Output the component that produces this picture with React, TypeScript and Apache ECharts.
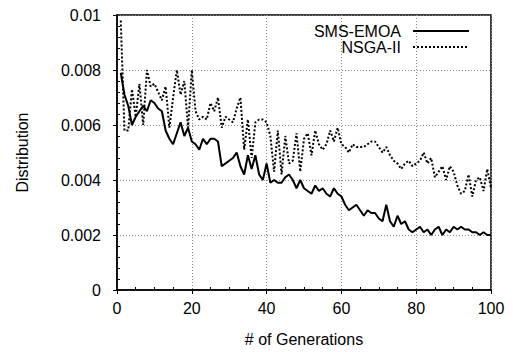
import React, { useEffect, useRef } from "react";
import * as echarts from "echarts";

const generations: number[] = Array.from({ length: 100 }, (_, i) => i + 1);

const smsEmoa: number[] = [
  0.0079, 0.0071, 0.0067, 0.006, 0.0063, 0.0065, 0.0067, 0.0065, 0.0069, 0.0068,
  0.0066, 0.0065, 0.0058, 0.0055, 0.0053, 0.0057, 0.0061, 0.0056, 0.0059, 0.0054,
  0.0053, 0.0051, 0.0055, 0.0053, 0.0055, 0.0055, 0.0054, 0.0045, 0.0046, 0.0047,
  0.0048, 0.005, 0.0045, 0.0042, 0.0049, 0.0044, 0.0049, 0.0042, 0.004, 0.0046,
  0.0039, 0.004, 0.0039, 0.0039, 0.0041, 0.0042, 0.004, 0.0037, 0.004, 0.0037,
  0.0036, 0.0035, 0.0038, 0.0036, 0.0037, 0.0035, 0.0034, 0.0037, 0.0035, 0.0034,
  0.0031, 0.0029, 0.003, 0.0031, 0.0029, 0.0027, 0.0029, 0.0028, 0.0028, 0.0026,
  0.0025, 0.0031, 0.0025, 0.0023, 0.0027, 0.0024, 0.0025, 0.0022, 0.0021, 0.0022,
  0.0023, 0.0021, 0.0022, 0.002, 0.0022, 0.0023, 0.002, 0.0022, 0.0021, 0.0023,
  0.0022, 0.0023, 0.0022, 0.0022, 0.0021, 0.0021, 0.002, 0.0021, 0.002, 0.002,
];

const nsga2: number[] = [
  0.0098, 0.0058, 0.0058, 0.0073, 0.0063, 0.0075, 0.006, 0.008, 0.0074, 0.0075,
  0.0072, 0.0069, 0.0074, 0.0059, 0.007, 0.008, 0.0071, 0.0076, 0.0059, 0.008,
  0.0065, 0.0062, 0.0063, 0.0062, 0.0068, 0.0065, 0.007, 0.0059, 0.0063, 0.0062,
  0.0061, 0.0066, 0.007, 0.0051, 0.0062, 0.0048, 0.0061, 0.0062, 0.0062, 0.0061,
  0.0056, 0.0043, 0.0058, 0.0042, 0.0056, 0.0046, 0.0047, 0.0057, 0.0043, 0.0055,
  0.0057, 0.0049, 0.0058, 0.0053, 0.0051, 0.0053, 0.0058, 0.0054, 0.0059, 0.0053,
  0.0052, 0.005, 0.0053, 0.0052, 0.0052, 0.0052, 0.0053, 0.0054, 0.0054, 0.0052,
  0.005, 0.0052, 0.0049, 0.0047, 0.0046, 0.0044, 0.0046, 0.0047, 0.0045, 0.0046,
  0.0047, 0.005, 0.0046, 0.0048, 0.0041, 0.0043, 0.0045, 0.004, 0.0045, 0.0043,
  0.0038, 0.0035, 0.0036, 0.0042, 0.0034, 0.004, 0.0041, 0.0036, 0.0044, 0.0037,
];

const seriesNames = ["SMS-EMOA", "NSGA-II"];

const FONT = "'Liberation Sans', Arial, Helvetica, sans-serif";

export default function App() {
  const ref = useRef<HTMLDivElement>(null);

  useEffect(() => {
    if (!ref.current) return;
    const chart = echarts.init(ref.current, null, { renderer: "svg" });
    const gridLine = { show: true, lineStyle: { color: "#8a8a8a", width: 1, type: [1, 2] as any } };
    chart.setOption({
      animation: false,
      backgroundColor: "#fff",
      textStyle: { fontFamily: FONT, color: "#000" },
      grid: {
        left: 117,
        right: 22,
        top: 15,
        bottom: 57,
        show: true,
        borderColor: "#000",
        borderWidth: 1.5,
        backgroundColor: "transparent",
      },
      legend: {
        orient: "vertical",
        right: 43,
        top: 23,
        align: "right",
        padding: 0,
        itemGap: 0,
        itemWidth: 56,
        itemHeight: 2,
        itemStyle: { opacity: 0 },
        formatter: (n: string) => "{a|" + n + "}",
        textStyle: {
          fontFamily: FONT,
          fontSize: 16,
          color: "#000",
          rich: {
            a: { fontFamily: FONT, fontSize: 16, color: "#000", lineHeight: 16, padding: [0, 7, 0, 0] },
          },
        },
        data: seriesNames,
      },
      xAxis: {
        type: "value",
        min: 0,
        max: 100,
        interval: 20,
        name: "# of Generations",
        nameLocation: "middle",
        nameGap: 41,
        nameTextStyle: { fontFamily: FONT, fontSize: 16, color: "#000" },
        axisLine: { show: true, lineStyle: { color: "#000", width: 1.5 } },
        axisTick: { show: true, inside: false, length: 4, lineStyle: { color: "#000" } },
        minorTick: { show: true, splitNumber: 4, length: -3, lineStyle: { color: "#000" } },
        axisLabel: { fontFamily: FONT, fontSize: 16, color: "#000", margin: 10 },
        splitLine: gridLine,
      },
      yAxis: {
        type: "value",
        min: 0,
        max: 0.01,
        interval: 0.002,
        name: "Distribution",
        nameLocation: "middle",
        nameGap: 87,
        nameTextStyle: { fontFamily: FONT, fontSize: 16, color: "#000" },
        axisLine: { show: true, lineStyle: { color: "#000", width: 1.5 } },
        axisTick: { show: true, inside: false, length: 4, lineStyle: { color: "#000" } },
        minorTick: { show: true, splitNumber: 5, length: -3, lineStyle: { color: "#000" } },
        axisLabel: {
          fontFamily: FONT,
          fontSize: 16,
          color: "#000",
          margin: 16,
          formatter: (v: number) => (v === 0 ? "0" : String(parseFloat(v.toFixed(4)))),
        },
        splitLine: gridLine,
      },
      series: [
        {
          name: seriesNames[0],
          type: "line",
          symbol: "none",
          data: generations.map((g, i) => [g, smsEmoa[i]]),
          lineStyle: { color: "#000", width: 2, type: "solid" },
          itemStyle: { color: "#000" },
          z: 3,
        },
        {
          name: seriesNames[1],
          type: "line",
          symbol: "none",
          data: generations.map((g, i) => [g, nsga2[i]]),
          lineStyle: { color: "#000", width: 2, type: [2, 2] },
          itemStyle: { color: "#000" },
          z: 2,
        },
      ],
    });
    return () => chart.dispose();
  }, []);

  return (
    <div
      ref={ref}
      style={{ position: "fixed", left: 0, top: 0, width: 513, height: 352, background: "#fff" }}
    />
  );
}
